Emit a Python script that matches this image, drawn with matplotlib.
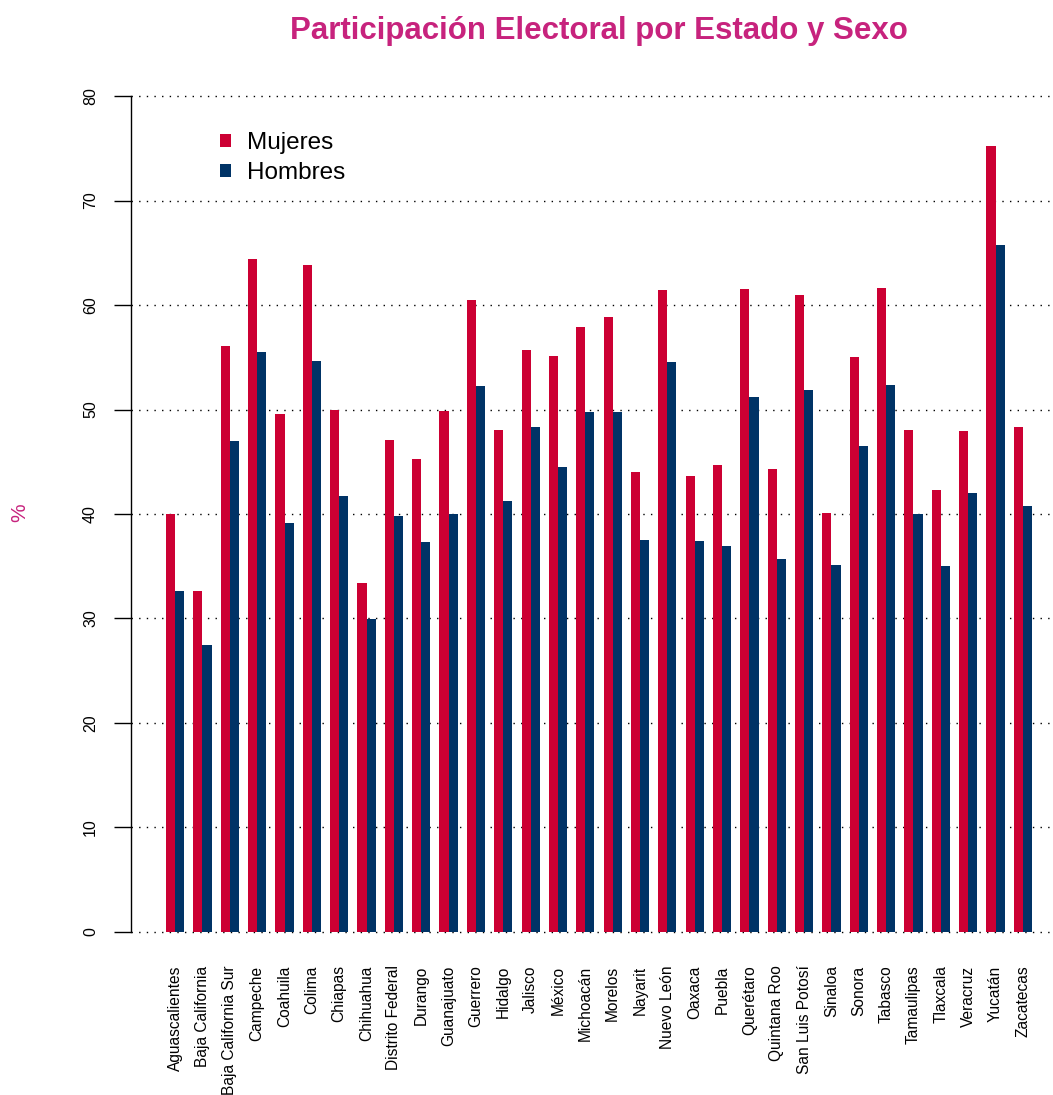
import numpy as np
import matplotlib.pyplot as plt
from matplotlib.patches import Patch

plt.rcParams['font.family'] = ['Liberation Sans', 'DejaVu Sans']

estados = ["Aguascalientes", "Baja California", "Baja California Sur", "Campeche",
           "Coahuila", "Colima", "Chiapas", "Chihuahua", "Distrito Federal", "Durango",
           "Guanajuato", "Guerrero", "Hidalgo", "Jalisco", "México", "Michoacán",
           "Morelos", "Nayarit", "Nuevo León", "Oaxaca", "Puebla", "Querétaro",
           "Quintana Roo", "San Luis Potosí", "Sinaloa", "Sonora", "Tabasco",
           "Tamaulipas", "Tlaxcala", "Veracruz", "Yucatán", "Zacatecas"]

mujeres = [40.0, 32.6, 56.05, 64.37, 49.6, 63.86, 49.98, 33.36, 47.05, 45.3,
           49.82, 60.5, 48.04, 55.66, 55.15, 57.86, 58.82, 44.05, 61.47, 43.64,
           44.69, 61.56, 44.27, 60.92, 40.1, 55.06, 61.66, 48.04, 42.3, 47.9,
           75.2, 48.3]

hombres = [32.66, 27.45, 47.0, 55.47, 39.1, 54.6, 41.75, 29.98, 39.77, 37.35,
           40.0, 52.25, 41.2, 48.35, 44.5, 49.73, 49.73, 37.48, 54.5, 37.45,
           36.9, 51.16, 35.69, 51.83, 35.12, 46.5, 52.3, 39.97, 35.02, 41.98,
           65.7, 40.73]

yticks = [0, 10, 20, 30, 40, 50, 60, 70, 80]

rojo = "#CC0033"
azul = "#003366"
rosa = "#C7237D"

W, H = 1053, 1095
fig = plt.figure(figsize=(W / 100, H / 100), dpi=100)

# plot region in pixels (R style, 4% padding around data range)
left_px, right_px = 131.4, 1066.6
top_px, bottom_px = 62.6, 965.4
ax = fig.add_axes([left_px / W, 1 - bottom_px / H,
                   (right_px - left_px) / W, (bottom_px - top_px) / H])

n = len(estados)
grupo = np.arange(n) * 3
x_m = grupo + 1.5
x_h = grupo + 2.5

for y in yticks:
    ax.axhline(y, color="black", linewidth=1.0, dashes=(1, 4.5), zorder=1)

ax.bar(x_m, mujeres, width=1.0, color=rojo, linewidth=0, zorder=2)
ax.bar(x_h, hombres, width=1.0, color=azul, linewidth=0, zorder=2)

ax.set_xlim(-2.8, 99.8)
ax.set_ylim(-3.2, 83.2)

for s in ["top", "right", "bottom"]:
    ax.spines[s].set_visible(False)
ax.spines["left"].set_bounds(0, 80)
ax.spines["left"].set_linewidth(1.0)

ax.set_yticks(yticks)
ax.set_yticklabels([str(v) for v in yticks], rotation=90, va="center", fontsize=11.5)
ax.tick_params(axis="y", length=12, width=1.0, pad=12)

ax.set_xticks(grupo + 2)
ax.set_xticklabels(estados, rotation=90, fontsize=11.2, va="top", ha="center")
ax.tick_params(axis="x", length=0, pad=0)

handles = [Patch(facecolor=rojo, edgecolor="none", label="Mujeres"),
           Patch(facecolor=azul, edgecolor="none", label="Hombres")]
fig.legend(handles=handles, loc="upper left",
           bbox_to_anchor=(220 / W, 1 - 132 / H), frameon=False,
           fontsize=17.5, handlelength=0.45, handleheight=0.45,
           handletextpad=0.66, labelspacing=0.32, borderpad=0, borderaxespad=0)

fig.text(599 / W, 1 - 31 / H, "Participación Electoral por Estado y Sexo",
         ha="center", va="center", fontsize=22.5, fontweight="bold", color=rosa)
fig.text(20 / W, 1 - 513 / H, "%", rotation=90, ha="center", va="center",
         fontsize=15, color=rosa)

fig.savefig("out.png", dpi=100)
